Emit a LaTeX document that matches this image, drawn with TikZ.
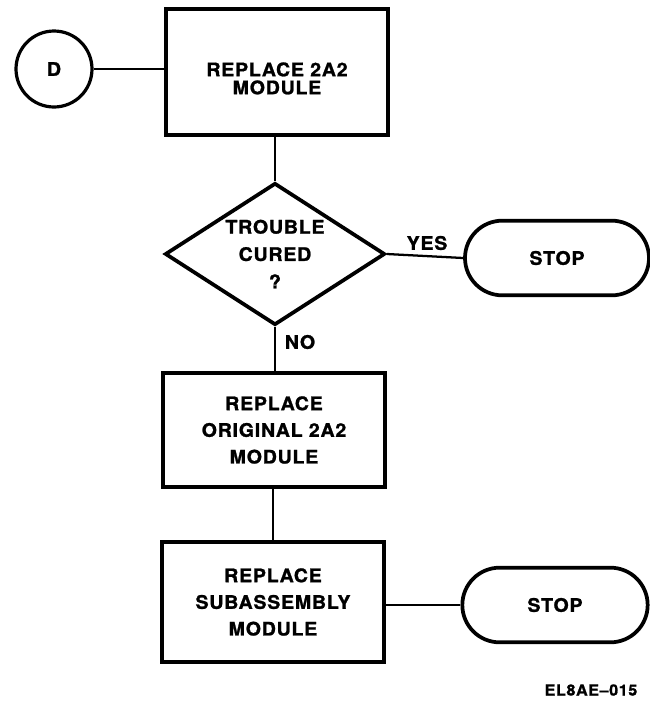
\documentclass[tikz,border=0pt]{standalone}
\usepackage{fontspec}
\newfontfamily\flowfont{texgyreheros-bold.otf}[FakeStretch=1.05,LetterSpace=4,FakeBold=1.2]
\usetikzlibrary{shapes.geometric}

\tikzset{
  box/.style={draw, line width=2.8pt, rectangle, align=center,
    font=\flowfont\fontsize{14pt}{20pt}\selectfont},
  decision/.style={draw, line width=2.8pt, diamond, aspect=1.55, inner sep=0pt,
    minimum width=165pt, minimum height=106.5pt, align=center,
    font=\flowfont\fontsize{14pt}{20.5pt}\selectfont},
  terminal/.style={draw, line width=2.8pt, rectangle, rounded corners=28pt,
    minimum width=138pt, minimum height=56pt,
    font=\flowfont\fontsize{14pt}{15pt}\selectfont},
  connector/.style={draw, circle, line width=2.4pt, minimum size=57pt,
    font=\flowfont\fontsize{14pt}{15pt}\selectfont},
  lbl/.style={font=\flowfont\fontsize{14pt}{15pt}\selectfont},
  link/.style={line width=1.7pt}
}

\begin{document}
\begin{tikzpicture}[x=0.75pt,y=-0.75pt]
\useasboundingbox (0,0) rectangle (650,704);

% Nodes
\node[connector] (d) at (54,69) {D};
\node[box, minimum width=167pt, minimum height=94.5pt,
  font=\flowfont\fontsize{14pt}{13.5pt}\selectfont]
  (rep1) at (277,72) {\rule{0pt}{20pt}REPLACE 2A2\\MODULE};
\node[decision] (cured) at (275,254) {TROUBLE\\CURED\\?};
\node[terminal] (stop1) at (557,258) {STOP};
\node[box, minimum width=166.5pt, minimum height=86pt] (rep2) at (274,430)
  {REPLACE\\ORIGINAL 2A2\\MODULE};
\node[box, minimum width=166pt, minimum height=90pt] (rep3) at (273,602)
  {REPLACE\\SUBASSEMBLY\\MODULE};
\node[terminal, minimum width=139pt] (stop2) at (555,605) {STOP};

% Labels
\node[lbl] (yes) at (427,243) {YES};
\node[lbl] (no) at (300,342) {NO};
\node[lbl, font=\flowfont\fontsize{11.5pt}{12pt}\selectfont] (fig) at (591,690) {EL8AE–015};

% Lines
\draw[link] (d) -- (rep1.west |- d);
\draw[link] (rep1.south -| cured.north) -- (cured.north);
\draw[link] (cured.east) -- (stop1.west);
\draw[link] (cured.south) -- (rep2.north -| cured.south);
\draw[link] (rep2.south -| rep3.north) -- (rep3.north);
\draw[link] (rep3.east |- stop2.west) -- (stop2.west);
\end{tikzpicture}
\end{document}
